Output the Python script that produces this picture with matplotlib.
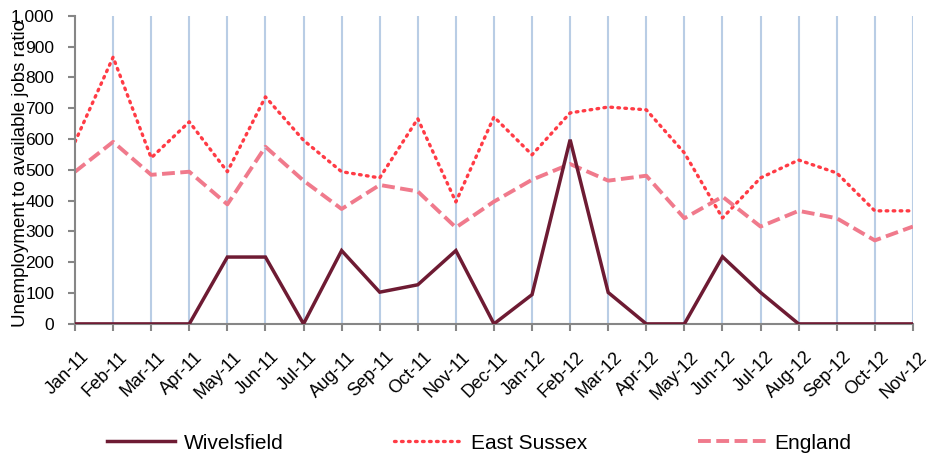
import matplotlib.pyplot as plt
import matplotlib.ticker as mticker
import matplotlib.transforms as mtransforms

plt.rcParams['font.family'] = ['Liberation Sans', 'DejaVu Sans']

months = ['Jan-11', 'Feb-11', 'Mar-11', 'Apr-11', 'May-11', 'Jun-11', 'Jul-11',
          'Aug-11', 'Sep-11', 'Oct-11', 'Nov-11', 'Dec-11', 'Jan-12', 'Feb-12',
          'Mar-12', 'Apr-12', 'May-12', 'Jun-12', 'Jul-12', 'Aug-12', 'Sep-12',
          'Oct-12', 'Nov-12']
wivelsfield = [0, 0, 0, 0, 217, 217, 0, 238, 103, 127, 238, 0, 95, 598,
               102, 0, 0, 218, 102, 0, 0, 0, 0]
east_sussex = [591, 866, 539, 656, 494, 737, 596, 494, 474, 666, 396, 672,
               549, 685, 704, 695, 555, 344, 474, 532, 490, 367, 367]
england = [494, 591, 484, 494, 388, 575, 465, 373, 451, 430, 313, 397, 468,
           519, 465, 481, 343, 413, 316, 367, 343, 271, 316]

x = list(range(len(months)))

fig = plt.figure(figsize=(9.32, 4.53), dpi=100)
ax = fig.add_axes([0.0805, 0.285, 0.899, 0.680])

# vertical grid lines at each month
for xi in x[1:]:
    ax.axvline(xi, color='#b9cde5', linewidth=1.5, zorder=0)

l1, = ax.plot(x, wivelsfield, color='#6e1b33', linewidth=2.5,
              solid_joinstyle='miter', label='Wivelsfield', zorder=3)
l2, = ax.plot(x, east_sussex, color='#ff3b45', linewidth=2.4,
              linestyle=(0, (0.5, 1.6)), dash_capstyle='round',
              label='East Sussex', zorder=2)
l3, = ax.plot(x, england, color='#f07a8c', linewidth=2.8,
              linestyle=(0, (3.3, 1.4)), label='England', zorder=2)

ax.set_xlim(0, len(months) - 1)
ax.set_ylim(0, 1000)
ax.set_yticks(range(0, 1001, 100))
ax.yaxis.set_major_formatter(mticker.StrMethodFormatter('{x:,.0f}'))
ax.set_xticks(x)

for s in ['top', 'right']:
    ax.spines[s].set_visible(False)
for s in ['left', 'bottom']:
    ax.spines[s].set_color('#868686')
    ax.spines[s].set_linewidth(1.5)
ax.tick_params(axis='both', colors='#868686', labelcolor='black',
               length=5, width=1.5, direction='out')
ax.tick_params(axis='y', labelsize=12.5, pad=10)
ax.tick_params(axis='x', labelsize=13, pad=17)

# rotated month labels, nudged right like the original
ax.set_xticklabels(months, rotation=45, ha='right', va='center',
                   rotation_mode='anchor')
shift = mtransforms.ScaledTranslation(0.11, 0, fig.dpi_scale_trans)
for tick in ax.xaxis.get_major_ticks():
    tick.label1.set_transform(tick.label1.get_transform() + shift)

ax.set_ylabel('Unemployment to available jobs ratio', fontsize=13.5)
ax.yaxis.set_label_coords(-0.055, 0.487)

fig.legend(handles=[l1, l2, l3], loc='center', bbox_to_anchor=(0.514, 0.022),
           ncol=3, frameon=False, fontsize=15, handlelength=3.3,
           columnspacing=5.3, handletextpad=0.4)

fig.savefig('out.png', dpi=100)
